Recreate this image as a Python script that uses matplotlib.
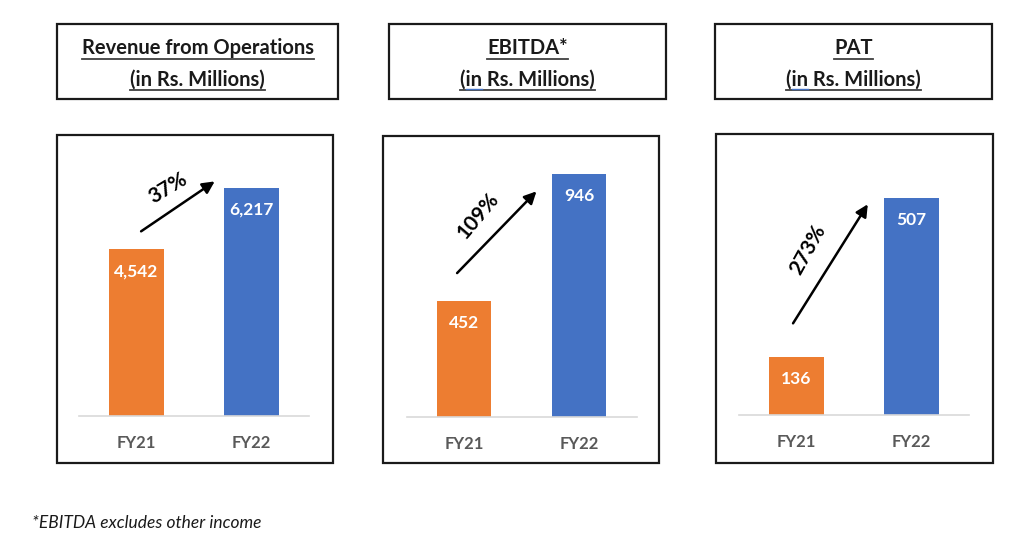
import matplotlib
matplotlib.use("Agg")
import matplotlib.pyplot as plt
from matplotlib.patches import Rectangle
from matplotlib.lines import Line2D

plt.rcParams['font.family'] = ['Lato', 'DejaVu Sans']

W, H = 1024, 540

# data
categories = ['FY21', 'FY22']
revenue = [4542, 6217]
ebitda = [452, 946]
pat = [136, 507]
growth = ['37%', '109%', '273%']
titles = ['Revenue from Operations', 'EBITDA*', 'PAT']
subtitle = '(in Rs. Millions)'
footnote = '*EBITDA excludes other income'

ORANGE = '#ED7D31'
BLUE = '#4472C4'
GREY = '#595959'


def fx(px):
    return px / W


def fy(py):
    return 1 - py / H


fig = plt.figure(figsize=(W / 100, H / 100), dpi=100)

# panel layout in pixels: title box, chart box, axes left, baseline, ymax
panels = [
    dict(values=revenue, tbox=(57, 24, 338, 99), cbox=(57, 135, 333, 463),
         ax_left=79, base=416, ymax=7000,
         arrow=((0.04, 5030), (0.68, 6390)), lab=(0.27, 6200), rot=31),
    dict(values=ebitda, tbox=(389, 24, 666, 99), cbox=(383, 136, 659, 463),
         ax_left=406.5, base=417, ymax=1000,
         arrow=((-0.06, 560), (0.63, 878)), lab=(0.12, 784), rot=50),
    dict(values=pat, tbox=(715, 24, 992, 99), cbox=(716, 134, 993, 463),
         ax_left=739, base=415, ymax=600,
         arrow=((-0.03, 214), (0.62, 492)), lab=(0.10, 385), rot=61),
]

ax_w, ax_h = 230, 257
title_texts = []
sub_texts = []

for i, p in enumerate(panels):
    # boxes
    for (x0, y0, x1, y1) in (p['tbox'], p['cbox']):
        fig.patches.append(Rectangle((fx(x0), fy(y1)), fx(x1 - x0), (y1 - y0) / H,
                                     transform=fig.transFigure, fill=False,
                                     edgecolor='#1a1a1a', lw=1.6))
    # titles
    cx = (p['tbox'][0] + p['tbox'][2]) / 2
    t1 = fig.text(fx(cx), fy(54), titles[i], ha='center', va='baseline',
                  fontsize=14.5, fontweight='bold', color='#1a1a1a')
    t2 = fig.text(fx(cx), fy(86), subtitle, ha='center', va='baseline',
                  fontsize=14.5, fontweight='bold', color='#1a1a1a')
    title_texts.append((t1, 58.5))
    title_texts.append((t2, 90))
    sub_texts.append(t2)

    ax = fig.add_axes([fx(p['ax_left']), fy(p['base']), ax_w / W, ax_h / H])
    ax.bar([0, 1], p['values'], width=0.478, color=[ORANGE, BLUE])
    ax.set_xlim(-0.5, 1.5)
    ax.set_ylim(0, p['ymax'])
    for s in ['top', 'right', 'left']:
        ax.spines[s].set_visible(False)
    ax.spines['bottom'].set_color('#D9D9D9')
    ax.spines['bottom'].set_linewidth(1.2)
    ax.set_yticks([])
    ax.set_xticks([0, 1])
    ax.set_xticklabels(categories, fontsize=12, fontweight='bold', color=GREY)
    ax.tick_params(axis='x', length=0, pad=14)
    ax.patch.set_alpha(0)
    for xi, v in enumerate(p['values']):
        ax.annotate(f'{v:,}', (xi, v), xytext=(0, -16), textcoords='offset points',
                    ha='center', va='center', color='white', fontsize=12.5,
                    fontweight='bold')
    # growth arrow
    ax.annotate('', xy=p['arrow'][1], xytext=p['arrow'][0],
                arrowprops=dict(arrowstyle='-|>', color='black', lw=1.8,
                                mutation_scale=18, shrinkA=0, shrinkB=0),
                annotation_clip=False)
    ax.text(p['lab'][0], p['lab'][1], growth[i], rotation=p['rot'],
            rotation_mode='anchor', ha='center', va='center', fontsize=15,
            fontweight='bold', color='black', clip_on=False)

fig.text(fx(32), fy(523), footnote, ha='left', va='center', fontsize=12.5,
         style='italic', color='#1a1a1a')

# underline the title lines
fig.canvas.draw()
r = fig.canvas.get_renderer()
for t, uy in title_texts:
    bb = t.get_window_extent(r)
    fig.lines.append(Line2D([bb.x0 / W, bb.x1 / W], [fy(uy), fy(uy)],
                            transform=fig.transFigure, color='#404040', lw=1.3))

# spell-check squiggle under "in" on the EBITDA and PAT subtitles
for t in sub_texts[1:]:
    bb = t.get_window_extent(r)
    tmp = fig.text(0, 0, '(', fontsize=14.5, fontweight='bold')
    tmp2 = fig.text(0, 0, '(in', fontsize=14.5, fontweight='bold')
    w0 = tmp.get_window_extent(r).width
    w1 = tmp2.get_window_extent(r).width
    tmp.remove()
    tmp2.remove()
    fig.lines.append(Line2D([(bb.x0 + w0) / W, (bb.x0 + w1) / W], [fy(88.5), fy(88.5)],
                            transform=fig.transFigure, color='#4472C4', lw=1.0))

fig.savefig('out.png', dpi=100)
